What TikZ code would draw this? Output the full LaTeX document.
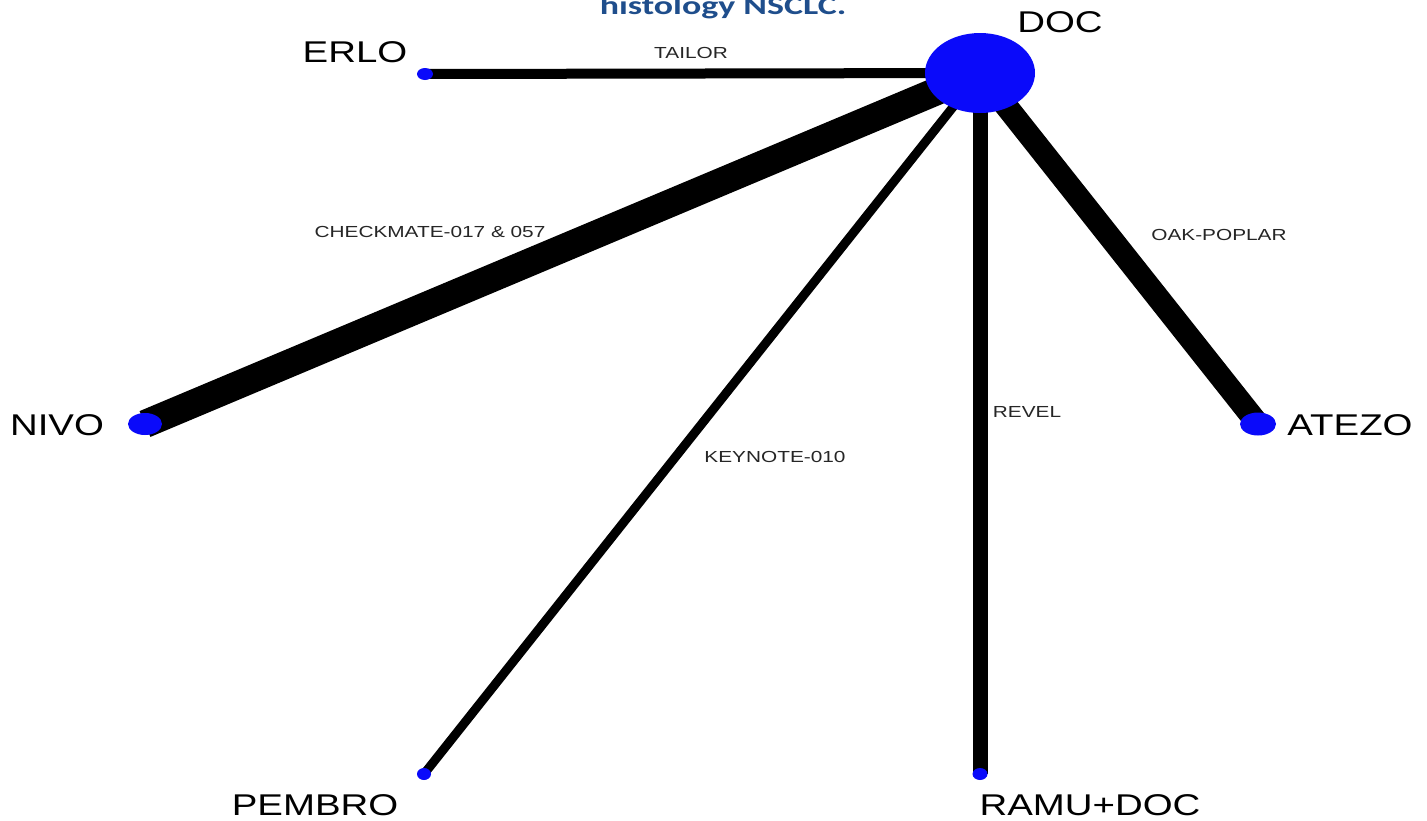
\documentclass[tikz,border=0pt]{standalone}
\usepackage{fontspec}
\setmainfont{Liberation Sans}
\newfontfamily\titlefont{Carlito}
\usetikzlibrary{shapes.geometric}
\definecolor{titleblue}{RGB}{31,78,140}
\definecolor{nodeblue}{RGB}{10,10,250}
\pgfdeclarelayer{paper}
\pgfdeclarelayer{edges}
\pgfsetlayers{paper,edges,main}
\begin{document}
\begin{tikzpicture}[x=1pt,y=-1pt,
  treat/.style={ellipse,fill=nodeblue,draw=none,inner sep=0pt},
  bigname/.style={anchor=base,inner sep=0pt,xscale=1.28,font=\fontsize{30}{30}\selectfont},
  trial/.style={anchor=base,inner sep=0pt,xscale=1.3,font=\fontsize{16}{16}\selectfont,text=black!85},
  link/.style={draw=black,line cap=butt}]
\useasboundingbox (0,0) rectangle (1427,820);
\begin{pgfonlayer}{paper}
  \fill[white] (0,0) rectangle (1427,820);
\end{pgfonlayer}

% heading line (top partly outside the page)
\node[anchor=base,inner sep=0pt,xscale=1.38,text=titleblue,
      font=\titlefont\bfseries\fontsize{26}{26}\selectfont] (title) at (723,14) {histology NSCLC.};

% treatments
\node[treat,minimum width=110pt,minimum height=80pt] (doc) at (980,73) {};
\node[treat,minimum width=16pt,minimum height=12pt] (erlo) at (425,74) {};
\node[treat,minimum width=34pt,minimum height=22pt] (nivo) at (145,424) {};
\node[treat,minimum width=36pt,minimum height=23pt] (atezo) at (1258,424) {};
\node[treat,minimum width=14pt,minimum height=12pt] (pembro) at (424,774) {};
\node[treat,minimum width=15pt,minimum height=12pt] (ramu) at (980,774) {};

% treatment names
\node[bigname] (docname) at (1060,32) {DOC};
\node[bigname] (erloname) at (355,62) {ERLO};
\node[bigname] (nivoname) at (57,435) {NIVO};
\node[bigname] (atezoname) at (1350,435) {ATEZO};
\node[bigname] (pembroname) at (315,815) {PEMBRO};
\node[bigname] (ramuname) at (1090,815) {RAMU+DOC};

% trial names
\node[trial] (tailor) at (691,58) {TAILOR};
\node[trial] (checkmate) at (430,237) {CHECKMATE-017 \& 057};
\node[trial] (oak) at (1219,240) {OAK-POPLAR};
\node[trial] (keynote) at (775,462) {KEYNOTE-010};
\node[trial] (revel) at (1027,417) {REVEL};

% comparisons, drawn beneath the treatment nodes
\begin{pgfonlayer}{edges}
\draw[link,line width=10pt] (erlo.center) -- (doc.center);
\draw[link,line width=28pt] (nivo.center) -- (doc.center);
\draw[link,line width=9pt] (pembro.center) -- (doc.center);
\draw[link,line width=15pt] (ramu.center) -- (doc.center);
\draw[link,line width=23pt] (atezo.center) -- (doc.center);
\end{pgfonlayer}
\end{tikzpicture}
\end{document}
